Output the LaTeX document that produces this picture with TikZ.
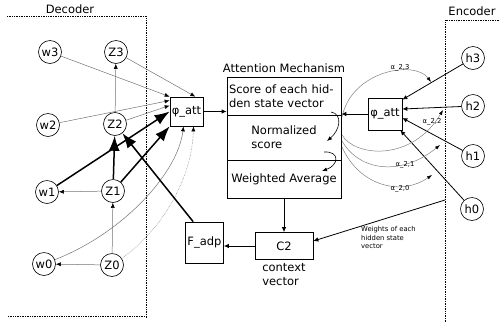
\documentclass[tikz,border=0pt]{standalone}
\usepackage{fontspec}
\setmainfont{DejaVu Sans}
\usetikzlibrary{arrows.meta,calc}
\begin{document}
\begin{tikzpicture}[x=1pt,y=-1pt,
 every node/.style={font=\fontsize{11.5}{14}\selectfont},
 st/.style={draw,circle,minimum size=23pt,inner sep=0pt,line width=0.6pt},
 box/.style={draw,rectangle,inner sep=1pt,line width=0.7pt},
 thinarr/.style={draw=black!55,line width=0.5pt,-{Latex[length=5pt,width=4pt,color=black]}},
 medarr/.style={draw=black,line width=0.8pt,-{Latex[length=5pt,width=4.5pt]}},
 thickarr/.style={draw=black,line width=1.5pt,-{Latex[length=15pt,width=11pt]}},
 curv/.style={draw=black!50,line width=0.5pt,-{Latex[length=5pt,width=3.5pt,color=black]}},
 innerarr/.style={draw=black,line width=0.6pt,-{Latex[length=5pt,width=4pt]}},
 small/.style={font=\fontsize{6.8}{8.8}\selectfont,inner sep=0pt},
 region/.style={densely dotted,line width=0.7pt}
]
\useasboundingbox (0,0) rectangle (500,322);

% regions
\draw[region] (7,16) -- (146,16) -- (146,318);
\draw[region] (8,316) -- (146,316);
\draw[region] (445,322) -- (445,20) -- (500,20);
\node (declbl) at (70,9) {Decoder};
\node (enclbl) at (472,11) {Encoder};

% decoder nodes
\node[st] (w3) at (50,52) {w3};
\node[st] (Z3) at (116,52) {Z3};
\node[st] (w2) at (48,125) {w2};
\node[st] (Z2) at (115,124) {Z2};
\node[st] (w1) at (47,192) {w1};
\node[st] (Z1) at (113,191) {Z1};
\node[st] (w0) at (44,264) {w0};
\node[st] (Z0) at (112,265) {Z0};

\node[box,minimum width=33pt,minimum height=29pt] (phiL) at (186.5,111.5) {φ\_att};

% attention mechanism
\node (attl) at (284,68) {Attention Mechanism};
\node[box,minimum width=114pt,minimum height=38pt,text width=110pt,align=left] (att1) at (284,96) {Score of each hid-\\den state vector};
\node[box,minimum width=114pt,minimum height=45pt,align=left] (att2) at (284,137.5) {Normalized\\score};
\node[box,minimum width=114pt,minimum height=38pt] (att3) at (284,179) {Weighted Average};

\node[box,minimum width=34pt,minimum height=32pt] (phiR) at (385,114) {φ\_att};

% encoder nodes
\node[st] (h3) at (473,58) {h3};
\node[st] (h2) at (473,106) {h2};
\node[st] (h1) at (473,156) {h1};
\node[st] (h0) at (472,209) {h0};

\node[box,minimum width=58pt,minimum height=27pt] (C2) at (284,246) {C2};
\node[align=left] (ctx) at (284,275) {context\\vector};
\node[box,minimum width=38pt,minimum height=41pt] (Fadp) at (204.5,242.5) {F\_adp};
\node[small,align=left,anchor=north west] (wl) at (361,226) {Weights of each\\hidden state\\vector};

% decoder thin arrows
\draw[thinarr] (Z0) -- (w0);
\draw[thinarr] (Z1) -- (w1);
\draw[thinarr] (Z0) -- (Z1);
\draw[thinarr] (Z2) -- (Z3);
\draw[thinarr] (w3) -- (phiL.north west);
\draw[thinarr] (Z3) -- ($(phiL.north east)+(-8,0)$);
\draw[thinarr] (w2) -- ($(phiL.west)+(0,-11)$);
\draw[thinarr] (Z2) -- ($(phiL.west)+(0,-6)$);
\draw[thinarr] (w0) .. controls (125,232) and (178,172) .. ($(phiL.south)+(-3,0)$);
\draw[thinarr,densely dotted] (Z0) .. controls (160,232) and (192,180) .. ($(phiL.south)+(7,0)$);

% thick arrows
\draw[thickarr] (Z1) -- (Z2);
\draw[thickarr] (w1) -- (phiL.west);
\draw[thickarr] (Z1) -- (phiL.south west);
\draw[thickarr] ($(Fadp.north west)+(8,0)$) -- (Z2);

% attention connections
\draw[medarr] (phiL.east) -- (phiL.east -| att1.west);
\draw[medarr] (phiR.west) -- (phiR.west -| att1.east);
\draw[medarr] (h3) -- ($(phiR.north east)+(0,2)$);
\draw[medarr] (h2) -- ($(phiR.east)+(0,-5)$);
\draw[medarr] (h1) -- ($(phiR.east)+(0,4)$);
\draw[medarr] (h0) -- ($(phiR.south east)+(-2,0)$);
\draw[medarr] (att3.south) -- (C2.north);
\draw[medarr] (C2.west) -- (C2.west -| Fadp.east);
\coordinate (encw) at (445,200);
\draw[medarr] (encw) -- ($(C2.east)+(0,-5)$);

% inner curved arrows
\coordinate (ia1) at (331,112);
\coordinate (ia2) at (327,141);
\coordinate (ib1) at (324,152);
\coordinate (ib2) at (322,171);
\draw[innerarr] (ia1) .. controls (343,114) and (340,130) .. (ia2);
\draw[innerarr] (ib1) .. controls (340,151) and (339,165) .. (ib2);

% alpha curves
\coordinate (s3) at (342,117);
\coordinate (e3) at (431,82);
\coordinate (s2) at (342,135);
\coordinate (e2) at (443,110);
\coordinate (s1) at (342,141);
\coordinate (e1) at (440,145);
\coordinate (s0) at (342,147);
\coordinate (e0) at (432,175);
\draw[curv] (s3) .. controls (352,70) and (415,60) .. (e3);
\draw[curv] (s2) .. controls (355,157) and (412,162) .. (e2);
\draw[curv] (s1) .. controls (360,172) and (402,176) .. (e1);
\draw[curv] (s0) .. controls (360,187) and (402,196) .. (e0);
\node[small] (a23) at (400,68) {α\_2,3};
\node[small] (a22) at (432,122) {α\_2,2};
\node[small] (a21) at (405,165) {α\_2,1};
\node[small] (a20) at (400,189) {α\_2,0};
\end{tikzpicture}
\end{document}
